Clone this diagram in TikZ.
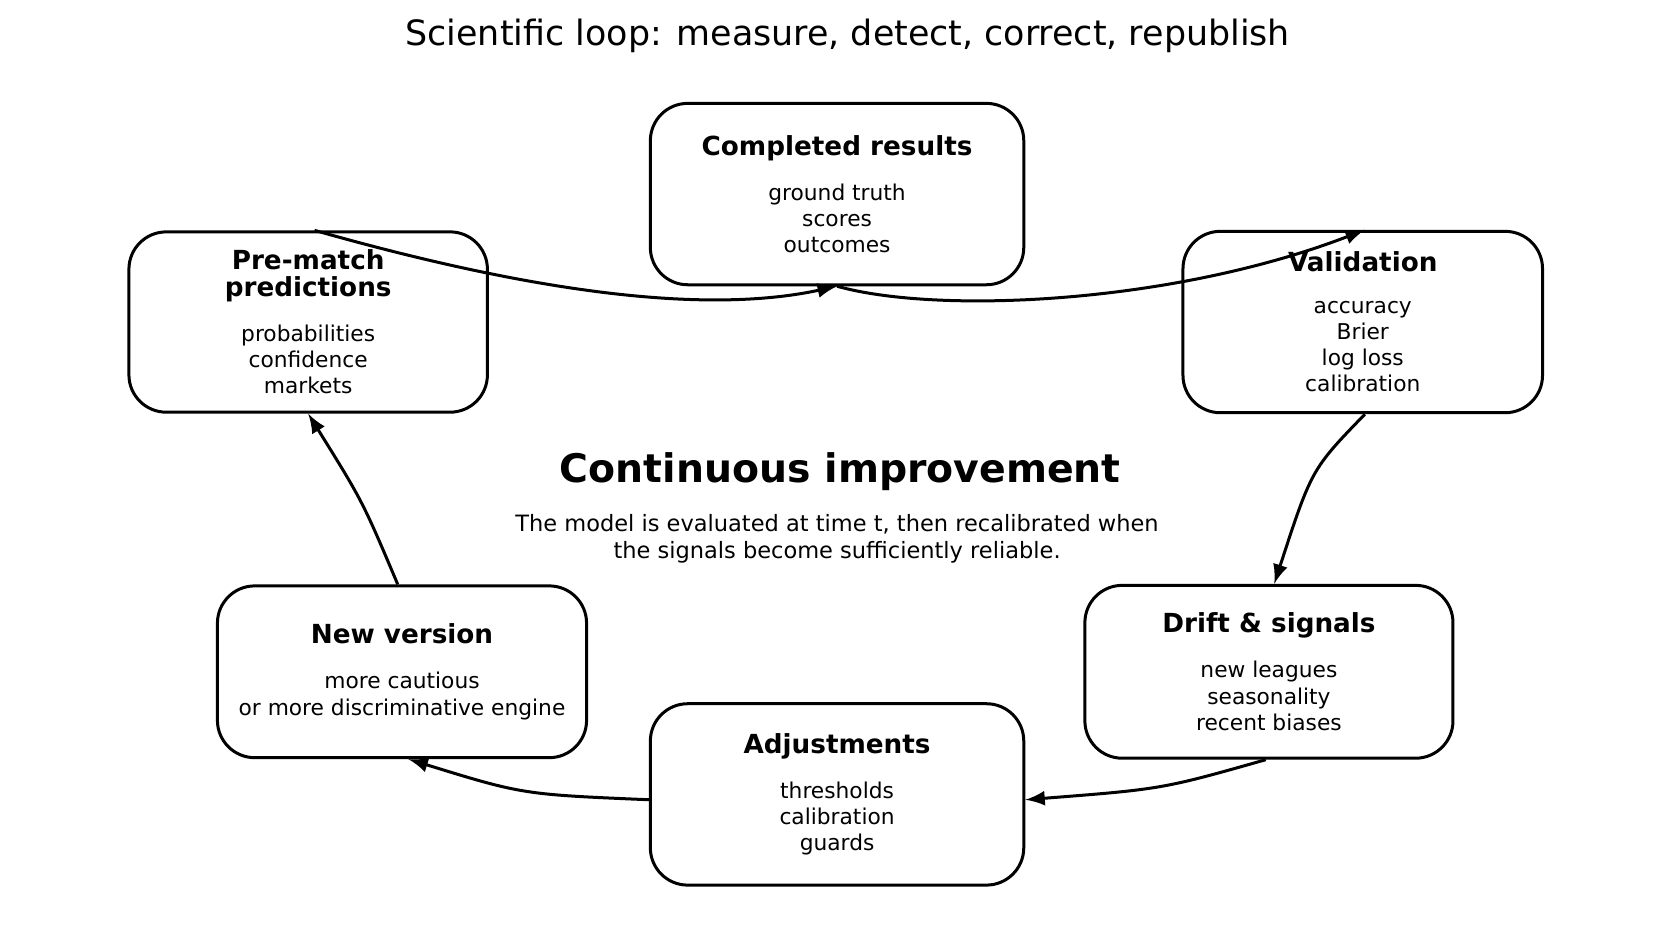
\documentclass[tikz,border=0pt]{standalone}
\usepackage{fontspec}
\setmainfont{DejaVu Sans}
\newcommand{\boxhead}[1]{{\fontsize{7}{8.5}\selectfont\bfseries #1}}
\begin{document}
\begin{tikzpicture}[x=0.01cm,y=-0.01cm,
    box/.style={draw, line width=0.8pt, rounded corners=0.35cm, align=center,
                font=\fontsize{5.8}{7}\selectfont, inner sep=0pt},
    flow/.style={-latex, line width=0.8pt}]
    % cadre
    \useasboundingbox (0,0) rectangle (1568,882);
    \node[font=\fontsize{9.3}{11}\selectfont] (title) at (795,34) {Scientific loop: measure, detect, correct, republish};

    % boites
    \node[box, minimum width=3.5cm, minimum height=1.7cm] (results) at (785,182)
        {\boxhead{Completed results}\\[5pt] ground truth\\ scores\\ outcomes};
    \node[box, minimum width=3.36cm, minimum height=1.69cm] (pred) at (289,302)
        {\boxhead{Pre-match}\\ \boxhead{predictions}\\[5pt] probabilities\\ confidence\\ markets};
    \node[box, minimum width=3.37cm, minimum height=1.7cm] (valid) at (1278,302)
        {\boxhead{Validation}\\[4pt] accuracy\\ Brier\\ log loss\\ calibration};
    \node[box, minimum width=3.45cm, minimum height=1.62cm] (drift) at (1190,630)
        {\boxhead{Drift \& signals}\\[5pt] new leagues\\ seasonality\\ recent biases};
    \node[box, minimum width=3.5cm, minimum height=1.7cm] (adjust) at (785,745)
        {\boxhead{Adjustments}\\[5pt] thresholds\\ calibration\\ guards};
    \node[box, minimum width=3.46cm, minimum height=1.61cm] (newver) at (377,630)
        {\boxhead{New version}\\[5pt] more cautious\\ or more discriminative engine};

    % texte central
    \node[font=\fontsize{10.5}{12}\selectfont\bfseries] (cont) at (788,442) {Continuous improvement};
    \node[font=\fontsize{6}{7.3}\selectfont, align=center] (note) at (785,505)
        {The model is evaluated at time t, then recalibrated when\\ the signals become sufficiently reliable.};

    % fleches
    \draw[flow] ([xshift=0.06cm]pred.north) .. controls (450,260) and (640,300) .. (results.south);
    \draw[flow] (results.south) .. controls (880,295) and (1100,285) .. ([xshift=0.02cm]valid.north);
    \draw[flow] ([xshift=0.02cm]valid.south) .. controls (1230,440) .. ([xshift=0.05cm]drift.north);
    \draw[flow] ([xshift=-0.03cm]drift.south) .. controls (1090,740) .. ([yshift=-0.05cm]adjust.east);
    \draw[flow] ([yshift=-0.05cm]adjust.west) .. controls (490,745) .. ([xshift=0.06cm]newver.south);
    \draw[flow] ([xshift=-0.04cm]newver.north) .. controls (340,470) .. (pred.south);
\end{tikzpicture}
\end{document}
